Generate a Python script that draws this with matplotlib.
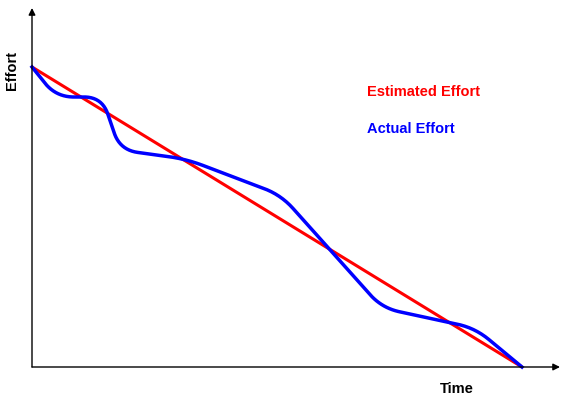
import numpy as np
import matplotlib
matplotlib.use("Agg")
import matplotlib.pyplot as plt

# estimated effort: straight burn-down
est_time = [0, 490]
est_effort = [300, 0]

# actual effort: polyline vertices, drawn with rounded corners
act_time = [0, 24, 70, 88, 154, 249, 350, 443, 490]
act_effort = [300, 270, 270, 217, 208, 172, 59, 39, 0]


def rounded(xs, ys, r=18, n=24):
    pts = np.column_stack([xs, ys]).astype(float)
    out = [pts[0]]
    for i in range(1, len(pts) - 1):
        p0, p1, p2 = pts[i - 1], pts[i], pts[i + 1]
        d1 = p0 - p1
        d2 = p2 - p1
        l1 = np.hypot(*d1)
        l2 = np.hypot(*d2)
        rr = min(r, l1 / 2, l2 / 2)
        a = p1 + d1 / l1 * rr
        b = p1 + d2 / l2 * rr
        t = np.linspace(0, 1, n)[:, None]
        curve = (1 - t) ** 2 * a + 2 * (1 - t) * t * p1 + t ** 2 * b
        out.extend(curve)
    out.append(pts[-1])
    out = np.array(out)
    return out[:, 0], out[:, 1]


plt.rcParams['font.family'] = ['Liberation Sans', 'DejaVu Sans']

fig = plt.figure(figsize=(5.71, 3.98), dpi=100)
ax = fig.add_axes([0, 0, 1, 1])
ax.set_xlim(-32, 539)
ax.set_ylim(-31, 367)
ax.axis('off')

# axes with arrow heads
ax.annotate('', xy=(528, 0), xytext=(0, 0),
            arrowprops=dict(arrowstyle='-|>', color='black', lw=1,
                            mutation_scale=10, shrinkA=0, shrinkB=0))
ax.annotate('', xy=(0, 359), xytext=(0, 0),
            arrowprops=dict(arrowstyle='-|>', color='black', lw=1,
                            mutation_scale=10, shrinkA=0, shrinkB=0))

ax.plot(est_time, est_effort, color='#ff0000', lw=2.2, solid_capstyle='butt')
bx, by = rounded(act_time, act_effort)
ax.plot(bx, by, color='#0000ff', lw=2.5, solid_joinstyle='round')

ax.text(-20, 297, 'Effort', rotation=90, ha='center', va='center',
        fontsize=10.5, fontweight='bold')
ax.text(425, -22, 'Time', ha='center', va='center',
        fontsize=10.5, fontweight='bold')
ax.text(335, 275, 'Estimated Effort', color='#ff0000', ha='left', va='center',
        fontsize=10.5, fontweight='bold')
ax.text(335, 238, 'Actual Effort', color='#0000ff', ha='left', va='center',
        fontsize=10.5, fontweight='bold')

fig.savefig('out.png', dpi=100)
